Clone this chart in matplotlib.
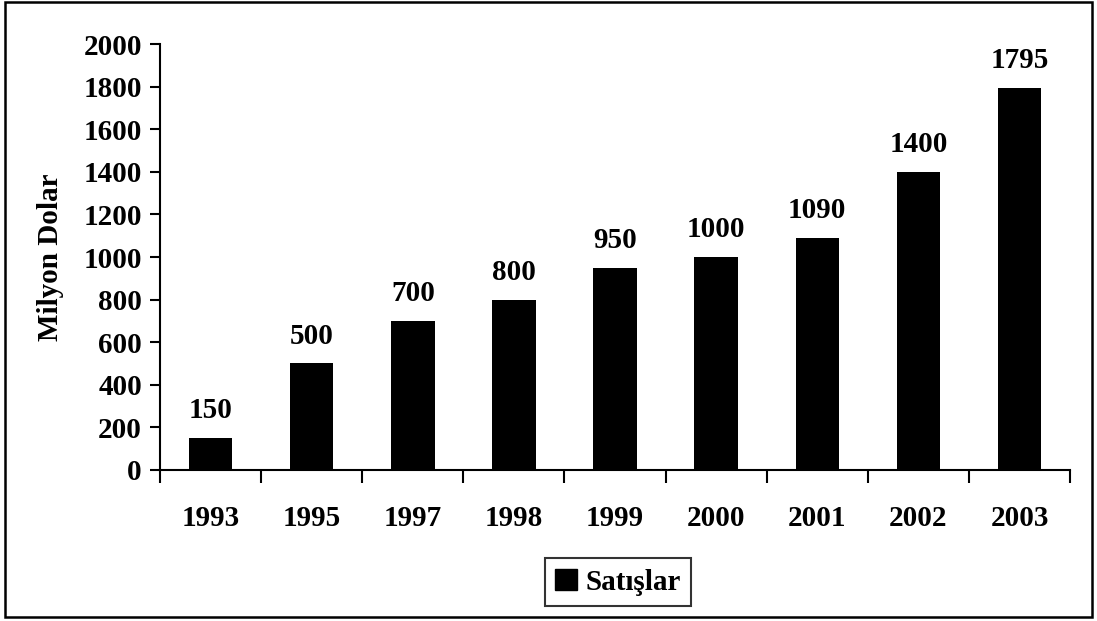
import matplotlib.pyplot as plt
import matplotlib.patches as mpatches
import numpy as np

years = ['1993', '1995', '1997', '1998', '1999', '2000', '2001', '2002', '2003']
sales = [150, 500, 700, 800, 950, 1000, 1090, 1400, 1795]
y_ticks = [0, 200, 400, 600, 800, 1000, 1200, 1400, 1600, 1800, 2000]

plt.rcParams['font.family'] = ['Liberation Serif', 'DejaVu Serif']
plt.rcParams['font.weight'] = 'bold'
plt.rcParams['font.size'] = 21

fig = plt.figure(figsize=(10.97, 6.21), dpi=100)
ax = fig.add_axes([0.1459, 0.2432, 0.8295, 0.6859])

x = np.arange(len(years))
bars = ax.bar(x, sales, width=0.43, color='black', label='Satışlar')

# value labels above each bar
for xi, v in zip(x, sales):
    ax.annotate(str(v), (xi, v), xytext=(0, 10), textcoords='offset points',
                ha='center', va='bottom', fontweight='bold', fontsize=21)

ax.set_xlim(-0.5, len(years) - 0.5)
ax.set_ylim(0, 2000)
ax.set_yticks(y_ticks)
ax.set_xticks(x)
ax.set_xticklabels(years)
ax.set_xticks(np.arange(len(years) + 1) - 0.5, minor=True)
ax.tick_params(axis='x', which='major', length=0, pad=25)
ax.tick_params(axis='x', which='minor', length=9, width=1.5)
ax.tick_params(axis='y', length=7, width=1.5, pad=6)

for side in ['top', 'right']:
    ax.spines[side].set_visible(False)
for side in ['left', 'bottom']:
    ax.spines[side].set_linewidth(1.5)

ax.set_ylabel('Milyon Dolar', fontweight='bold', fontsize=21, labelpad=14)

leg = fig.legend(handles=[mpatches.Patch(color='black', label='Satışlar')],
                 loc='center', bbox_to_anchor=(0.5634, 0.0628), frameon=True,
                 fancybox=False, edgecolor='black', handlelength=0.75, handleheight=0.75,
                 handletextpad=0.3, borderpad=0.35, fontsize=21)
leg.get_frame().set_linewidth(1.5)

# outer frame of the chart area
fig.patches.append(mpatches.Rectangle((0.005, 0.006), 0.99, 0.99, transform=fig.transFigure,
                                      fill=False, edgecolor='black', linewidth=1.8))

fig.savefig('out.png', dpi=100)
